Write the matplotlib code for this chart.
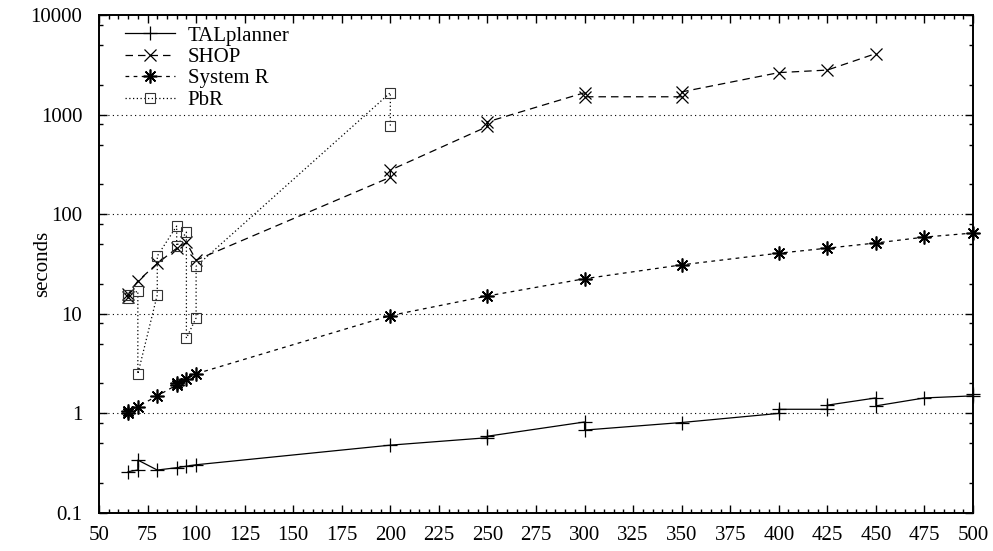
import numpy as np
import matplotlib
matplotlib.use('Agg')
import matplotlib.pyplot as plt
from matplotlib.ticker import FixedLocator, FuncFormatter, MultipleLocator

# data (two runs at some sizes)
tal_x = [65, 70, 70, 80, 90, 95, 100, 200, 250, 250, 300, 300, 350,
         400, 400, 425, 425, 450, 450, 475, 500, 500]
tal_y = [0.26, 0.27, 0.34, 0.27, 0.285, 0.295, 0.305, 0.48, 0.57, 0.59, 0.82, 0.68, 0.81,
         1.0, 1.1, 1.1, 1.21, 1.43, 1.19, 1.43, 1.5, 1.56]

shop_x = [65, 65, 70, 80, 90, 95, 100, 200, 200, 250, 250, 300, 300, 350, 350, 400, 425, 450]
shop_y = [14.8, 15.7, 21.3, 32, 45.5, 52, 34.6, 235, 277, 760, 845, 1660, 1510, 1510, 1690,
          2640, 2800, 4100]

sysr_x = [65, 65, 70, 80, 90, 90, 95, 100, 200, 250, 300, 350, 400, 425, 450, 475, 500]
sysr_y = [1.0, 1.05, 1.17, 1.5, 1.93, 2.02, 2.2, 2.5, 9.6, 15.1, 22.5, 31, 40.6, 45.6, 51.4,
          58.9, 64.7]

pbr_x = [65, 65, 70, 70, 80, 80, 90, 90, 95, 95, 100, 100, 200, 200]
pbr_y = [14.3, 15.3, 16.9, 2.49, 15.5, 38, 76, 48, 66, 5.7, 9.1, 30, 1660, 766]

x_ticks = list(range(50, 501, 25))
y_ticks = [0.1, 1, 10, 100, 1000, 10000]

plt.rcParams['font.family'] = ['Liberation Serif', 'DejaVu Serif']
fs = 15

fig = plt.figure(figsize=(9.93, 5.51), dpi=100)
ax = fig.add_axes([99 / 993, 1 - 513 / 551, 874 / 993, 498 / 551])

ax.plot(tal_x, tal_y, color='black', lw=0.9, ls='-', marker='+', ms=10, mew=0.9,
        label='TALplanner', clip_on=False)
ax.plot(shop_x, shop_y, color='black', lw=0.9, ls=(0, (6, 4)), marker='x', ms=8.5, mew=0.9,
        label='SHOP', clip_on=False)
ax.plot(sysr_x, sysr_y, color='black', lw=0.9, ls=(0, (3, 3.5)), marker=(8, 2, 0), ms=10,
        mew=1.2, label='System R', clip_on=False)
ax.plot(pbr_x, pbr_y, color='black', lw=0.9, ls=(0, (1, 2)), marker='s', ms=7.5, mew=0.8,
        mfc='none', mec='#333333', label='PbR', clip_on=False)

ax.set_yscale('log')
ax.set_xlim(50, 500)
ax.set_ylim(0.1, 10000)

ax.xaxis.set_major_locator(FixedLocator(x_ticks))
ax.xaxis.set_minor_locator(MultipleLocator(5))
ax.yaxis.set_major_locator(FixedLocator(y_ticks))
minors = [m * 10.0 ** e for e in range(-1, 4) for m in (2, 5, 8)]
ax.yaxis.set_minor_locator(FixedLocator(minors))
ax.yaxis.set_major_formatter(FuncFormatter(lambda v, p: '%g' % v))
ax.yaxis.set_minor_formatter(FuncFormatter(lambda v, p: ''))

ax.tick_params(which='both', direction='in', top=True, right=True, labelsize=fs)
ax.tick_params(which='major', length=6, width=1)
ax.tick_params(which='minor', length=3, width=1)
ax.tick_params(axis='y', pad=12)
ax.tick_params(axis='x', pad=9)
for s in ax.spines.values():
    s.set_linewidth(1.4)

for v in [1, 10, 100, 1000]:
    ax.axhline(v, color='black', lw=0.8, ls=(0, (1, 3)), zorder=0)

ax.set_ylabel('seconds', fontsize=fs)
ax.yaxis.set_label_coords(-0.054, 0.5)

ax.legend(loc='upper left', bbox_to_anchor=(26 / 874, 1 - 11 / 498), frameon=False,
          fontsize=fs, handlelength=2.4, handletextpad=0.6, labelspacing=0.09,
          borderpad=0, borderaxespad=0, markerscale=1)

fig.savefig('out.png', dpi=100)
